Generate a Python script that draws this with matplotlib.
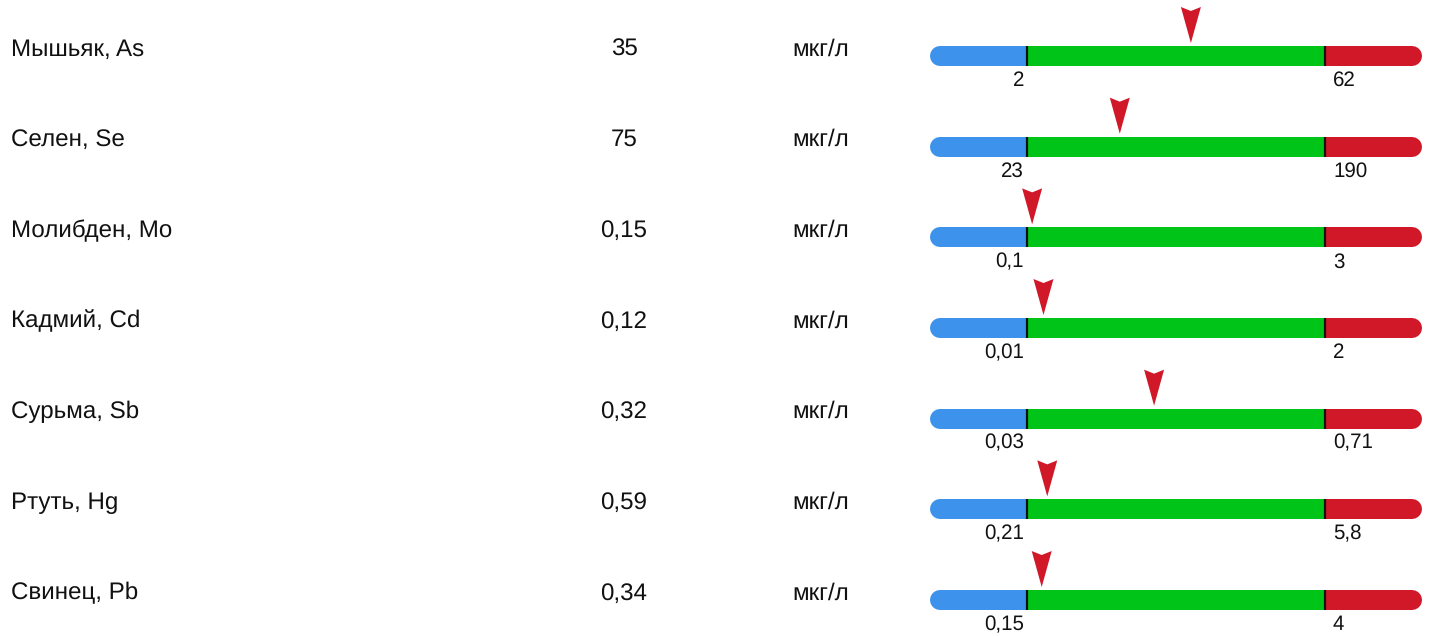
import matplotlib
matplotlib.use("Agg")
import matplotlib.pyplot as plt
from matplotlib import font_manager as fm
from matplotlib.patches import Rectangle, Polygon

plt.rcParams['text.hinting'] = 'no_hinting'

# pick regular Liberation Sans (not Narrow)
fpath = None
for f in fm.findSystemFonts():
    if f.endswith("LiberationSans-Regular.ttf"):
        fpath = f
        break

names = ["Мышьяк, As", "Селен, Se", "Молибден, Mo", "Кадмий, Cd",
         "Сурьма, Sb", "Ртуть, Hg", "Свинец, Pb"]
values = [35, 75, 0.15, 0.12, 0.32, 0.59, 0.34]
units = ["мкг/л"] * 7
low = [2, 23, 0.1, 0.01, 0.03, 0.21, 0.15]
high = [62, 190, 3, 2, 0.71, 5.8, 4]

BLUE = "#3D92EC"
GREEN = "#00C518"
RED = "#D01829"


def fmt(v):
    return f"{v:g}".replace('.', ',')


W, H = 1435, 636
fig = plt.figure(figsize=(W / 100, H / 100), dpi=100)
ax = fig.add_axes([0, 0, 1, 1])
ax.set_xlim(0, W)
ax.set_ylim(H, 0)
ax.axis('off')


def fp(size):
    if fpath:
        return fm.FontProperties(fname=fpath, size=size)
    return fm.FontProperties(family='Liberation Sans', size=size)


main_fp = fp(17.4)
lab_fp = fp(14.8)

# layout (pixels)
row0, row_step = 56, 90.67
bar_l, g_l, g_r, bar_r = 930, 1027, 1325, 1422
bar_h = 20
px2pt = 0.72
TXT = '#111111'

for i, (nm, v, u, lo, hi) in enumerate(zip(names, values, units, low, high)):
    yc = row0 + i * row_step
    ax.text(11, yc - 0.5, nm, fontproperties=main_fp, ha='left', va='baseline', color=TXT)
    ax.text(624, yc - 0.5, fmt(v), fontproperties=main_fp, ha='center', va='baseline', color=TXT)
    ax.text(792, yc - 0.5, u, fontproperties=main_fp, ha='left', va='baseline', color=TXT)

    # rounded ends
    ax.plot([bar_l + bar_h / 2, g_l + 60], [yc, yc], color=BLUE,
            lw=bar_h * px2pt, solid_capstyle='round', zorder=1)
    ax.plot([g_r - 60, bar_r - bar_h / 2], [yc, yc], color=RED,
            lw=bar_h * px2pt, solid_capstyle='round', zorder=1)
    ax.add_patch(Rectangle((g_l, yc - bar_h / 2), g_r - g_l, bar_h,
                           facecolor=GREEN, edgecolor='none', zorder=2))
    for xd in (g_l, g_r):
        ax.plot([xd, xd], [yc - bar_h / 2, yc + bar_h / 2], color=TXT,
                lw=2.2 * px2pt, zorder=3, solid_capstyle='butt')

    ax.text(g_l - 3, yc + 30, fmt(lo), fontproperties=lab_fp, ha='right', va='baseline', color=TXT)
    ax.text(g_r + 8, yc + 30, fmt(hi), fontproperties=lab_fp, ha='left', va='baseline', color=TXT)

    # marker
    frac = (v - lo) / (hi - lo)
    mx = g_l + frac * (g_r - g_l)
    top = yc - 49
    tip = yc - 13
    ax.add_patch(Polygon([(mx - 10, top), (mx, top + 4), (mx + 10, top), (mx, tip)],
                         closed=True, facecolor=RED, edgecolor='none', zorder=4))

fig.savefig("out.png", dpi=100)
